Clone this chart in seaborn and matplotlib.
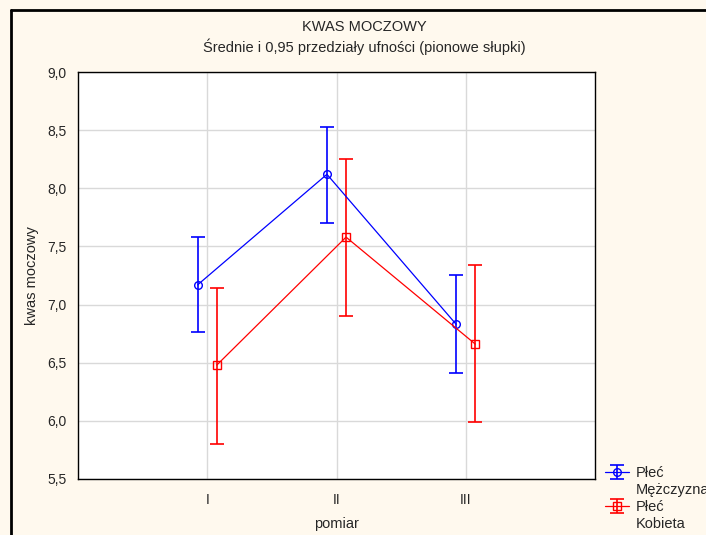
import numpy as np
import pandas as pd
import matplotlib
matplotlib.use("Agg")
import matplotlib.pyplot as plt
import seaborn as sns
from matplotlib.lines import Line2D
from matplotlib.ticker import FuncFormatter
from matplotlib.legend_handler import HandlerTuple

# DATA
pomiar = ["I", "II", "III"]
men_mean = [7.17, 8.12, 6.83]
men_low = [6.76, 7.70, 6.41]
men_high = [7.58, 8.53, 7.25]
women_mean = [6.48, 7.58, 6.66]
women_low = [5.80, 6.90, 5.99]
women_high = [7.14, 8.25, 7.34]
groups = ["Mężczyzna", "Kobieta"]

# long table for seaborn
pos = np.arange(1, len(pomiar) + 1)
shift = {"Mężczyzna": -0.074, "Kobieta": 0.074}
df = pd.concat([
    pd.DataFrame({"plec": g, "x": pos + shift[g], "mean": m, "low": lo, "high": hi})
    for g, m, lo, hi in [(groups[0], men_mean, men_low, men_high),
                         (groups[1], women_mean, women_low, women_high)]
])

colors = {"Mężczyzna": "#0000FF", "Kobieta": "#FF0000"}
markers = {"Mężczyzna": "o", "Kobieta": "s"}

sns.set_style("whitegrid")
plt.rcParams["font.family"] = ["Liberation Sans", "DejaVu Sans"]
plt.rcParams["font.size"] = 10

fig = plt.figure(figsize=(7.06, 5.35), dpi=100)
fig.patch.set_facecolor("#FFF9EE")
ax = fig.add_axes([78 / 706, 1 - 479 / 535, 517 / 706, 407 / 535])
ax.set_facecolor("white")

sns.lineplot(data=df, x="x", y="mean", hue="plec", style="plec",
             palette=colors, markers=markers, dashes=False, legend=False,
             markersize=5.5, linewidth=0.9, ax=ax)
# open markers in the line colour
for ln in ax.lines:
    ln.set_markerfacecolor("none")
    ln.set_markeredgecolor(ln.get_color())
    ln.set_markeredgewidth(1.0)
    ln.set_zorder(4)

handles = []
for g in groups:
    d = df[df["plec"] == g]
    eb = ax.errorbar(d["x"], d["mean"],
                     yerr=[d["mean"] - d["low"], d["high"] - d["mean"]],
                     fmt="none", ecolor=colors[g], elinewidth=1.2,
                     capsize=5, capthick=1.2, zorder=3)
    ln = Line2D([], [], color=colors[g], marker=markers[g], markersize=5.5,
                markerfacecolor="none", markeredgewidth=1.0, linewidth=0.9)
    handles.append((ln, eb))

ax.set_xlim(0, 4)
ax.set_ylim(5.5, 9.0)
ax.set_xticks(pos)
ax.set_xticklabels(pomiar)
ax.set_yticks(np.arange(5.5, 9.01, 0.5))
ax.yaxis.set_major_formatter(FuncFormatter(lambda v, p: f"{v:.1f}".replace(".", ",")))
ax.grid(True, color="#D9D9D9", linewidth=1.0)
ax.tick_params(axis="y", length=3, width=0.8, color="black", pad=5, labelsize=10)
ax.tick_params(axis="x", length=3, width=0.8, color="black", pad=7, labelsize=10)
for s in ax.spines.values():
    s.set_color("black")
    s.set_linewidth(1.0)

ax.set_xlabel("pomiar", fontsize=10.5, labelpad=7)
ax.set_ylabel("kwas moczowy", fontsize=10.5, labelpad=6)

fig.text(364 / 706, 1 - 27 / 535, "KWAS MOCZOWY",
         ha="center", va="center", fontsize=10.5)
fig.text(364 / 706, 1 - 47 / 535,
         "Średnie i 0,95 przedziały ufności (pionowe słupki)",
         ha="center", va="center", fontsize=10.5)

# outer frame (left and top edges visible)
fig.add_artist(Line2D([11 / 706, 11 / 706], [0, 1 - 10 / 535], color="black", lw=2))
fig.add_artist(Line2D([11 / 706, 1], [1 - 10 / 535, 1 - 10 / 535], color="black", lw=2))

leg = fig.legend(handles, ["Płeć", "Płeć"], loc="upper left",
                 bbox_to_anchor=(595 / 706, 1 - 456 / 535), frameon=False,
                 handler_map={tuple: HandlerTuple(ndivide=1)},
                 handlelength=1.6, handletextpad=0.5, labelspacing=1.35,
                 fontsize=10.5, borderpad=0.2)

fig.canvas.draw()
for t, sub in zip(leg.get_texts(), groups):
    bb = t.get_window_extent()
    fig.text(bb.x0 / fig.bbox.width, (bb.y0 - 17) / fig.bbox.height, sub,
             ha="left", va="bottom", fontsize=10.5)

fig.savefig("out.png", dpi=100, facecolor=fig.get_facecolor())
